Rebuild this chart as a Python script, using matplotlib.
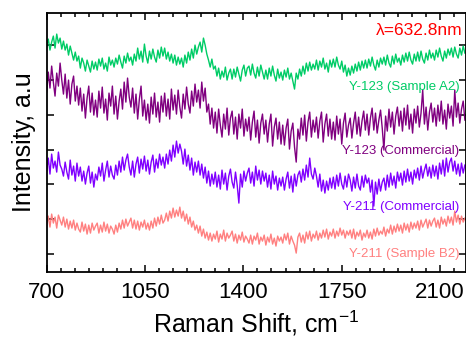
import numpy as np
import matplotlib
matplotlib.use("Agg")
import matplotlib.pyplot as plt
from matplotlib.ticker import MultipleLocator, FixedLocator

plt.rcParams['font.family'] = ['Liberation Sans', 'DejaVu Sans']
plt.rcParams['mathtext.default'] = 'regular'

# ---------------- data ----------------
wavenumber = np.arange(700, 2190, 6)  # cm^-1 sampling grid

y123_a2 = [
    225,233,222,230,236,224,238,229,234,223,
    231,222,228,217,226,219,212,220,211,216,
    204,214,209,201,212,206,200,211,203,210,
    202,213,206,214,203,209,201,215,207,212,
    205,214,208,217,210,204,216,209,219,211,
    215,207,218,211,224,213,221,210,228,216,
    209,221,213,223,215,210,222,214,225,216,
    224,213,220,211,218,209,217,207,215,208,
    214,205,217,209,220,212,223,214,227,218,
    225,230,220,234,227,218,212,205,213,203,
    206,196,204,193,201,195,205,192,199,203,
    193,203,195,205,198,191,202,207,196,204,
    206,197,208,199,194,205,196,207,200,193,
    202,193,204,196,206,197,191,203,194,200,
    192,202,195,204,193,199,191,183,199,193,
    203,196,206,198,209,201,210,202,208,203,
    212,202,211,205,214,203,209,200,212,205,
    213,205,215,207,203,211,200,207,196,204,
    197,206,199,208,201,210,202,211,204,212,
    204,213,206,215,207,202,212,205,214,208,
    215,207,217,209,205,216,208,218,210,214,
    207,217,210,219,211,220,212,208,218,211,
    220,211,221,213,209,219,212,222,214,219,
    212,222,215,224,216,211,221,214,223,217,
    224,215,225,218,214,224,217,226,219,
]

y123_comm = [
    180,200,184,206,190,176,199,186,209,192,
    178,198,174,192,168,188,196,171,186,167,
    184,161,178,154,174,186,160,179,157,172,
    155,181,164,185,159,173,152,179,166,186,
    158,176,153,171,183,163,190,170,194,175,
    165,184,159,178,153,173,186,156,172,152,
    168,149,175,158,179,155,170,150,176,160,
    179,156,173,153,183,162,177,158,182,165,
    154,178,163,185,168,159,181,166,188,170,
    182,164,190,171,184,160,168,148,164,144,
    160,139,163,147,135,158,143,164,137,154,
    161,138,155,133,158,144,163,136,153,141,
    155,132,150,161,135,152,129,149,158,138,
    152,130,148,158,126,145,154,133,150,128,
    147,127,144,153,123,141,149,125,110,143,
    133,154,137,157,131,150,160,135,152,140,
    155,134,151,160,130,148,158,136,153,133,
    150,132,156,138,153,128,149,159,135,147,
    154,134,149,160,138,155,136,151,161,142,
    158,137,154,164,142,159,139,152,162,144,
    122,156,141,163,145,160,138,156,165,146,
    161,141,164,147,167,143,158,139,163,149,
    166,145,159,182,148,165,142,160,169,150,
    164,146,167,151,171,148,162,143,168,154,
    166,146,182,155,169,149,163,171,152,
]

y211_comm = [
    101,114,98,118,104,111,100,120,107,103,
    96,110,100,93,112,97,106,91,109,96,
    105,91,101,88,99,106,89,100,85,98,
    92,105,96,109,91,102,111,95,106,97,
    93,107,97,111,100,115,102,112,118,105,
    97,111,95,108,115,99,113,103,116,101,
    112,98,110,117,100,113,104,118,107,115,
    104,118,108,122,111,127,115,131,119,128,
    121,108,123,106,117,102,114,97,110,100,
    111,97,108,94,105,89,101,86,98,88,
    100,85,97,83,102,88,99,82,96,103,
    90,84,100,87,69,98,85,101,91,99,
    104,89,100,86,106,92,102,88,101,91,
    99,85,97,83,101,88,96,82,94,86,
    95,82,93,100,84,96,80,98,86,97,
    101,90,103,92,107,95,114,98,93,104,
    96,85,98,81,92,79,91,82,94,84,
    95,83,97,86,99,88,83,96,85,98,
    92,81,95,84,98,86,82,96,85,97,
    89,94,80,92,66,90,78,93,81,90,
    94,82,97,85,99,87,96,84,100,91,
    99,87,101,90,103,91,100,88,102,94,
    104,92,106,94,102,108,96,105,94,107,
    96,106,93,109,98,112,96,114,100,110,
    114,101,111,98,108,96,109,99,107,
]

y211_b2 = [
    46,56,45,58,49,55,44,57,52,47,
    55,45,53,43,51,44,52,42,49,43,
    40,50,41,48,38,47,39,49,42,46,
    49,39,47,40,50,41,48,39,46,43,
    38,47,40,49,43,52,44,53,46,50,
    54,44,52,43,51,42,50,45,52,43,
    49,42,51,44,54,46,55,48,57,49,
    52,59,51,61,54,64,55,62,56,65,
    54,61,51,58,48,55,45,51,42,47,
    39,46,36,43,34,40,32,39,31,38,
    33,41,30,38,33,42,31,39,34,37,
    41,31,38,29,37,32,40,30,36,33,
    29,37,28,36,32,39,28,35,31,37,
    27,35,30,38,28,34,26,36,31,35,
    29,38,32,39,28,36,31,27,19,35,
    39,30,37,29,40,33,41,31,38,34,
    41,32,39,34,42,35,43,33,40,36,
    43,34,41,36,44,37,42,34,41,37,
    42,34,43,33,40,36,42,32,39,35,
    42,34,40,33,43,36,44,37,41,38,
    45,36,43,39,47,38,46,40,48,41,
    47,39,49,42,48,40,50,43,49,44,
    51,42,52,45,49,53,44,52,46,51,
    54,45,52,44,55,48,53,46,56,49,
    55,47,61,50,57,48,56,50,54,
]

series_labels = ["Y-123 (Sample A2)", "Y-123 (Commercial)",
                 "Y-211 (Commercial)", "Y-211 (Sample B2)"]
series_colors = ["#00CC66", "#800080", "#8000FF", "#FF8080"]
x_ticks = [700, 1050, 1400, 1750, 2100]
laser_label = "λ=632.8nm"

# ---------------- plot ----------------
fig = plt.figure(figsize=(4.66, 3.38), dpi=100)
ax = fig.add_axes([0.100, 0.195, 0.900, 0.7663])

all_series = [y123_a2, y123_comm, y211_comm, y211_b2]
for ys, c in zip(all_series, series_colors):
    n = min(len(ys), len(wavenumber))
    ax.plot(wavenumber[:n], ys[:n], color=c, lw=1.0)

ax.set_xlim(700, 2192)
ax.set_ylim(0, 259)

ax.xaxis.set_major_locator(FixedLocator(x_ticks))
ax.xaxis.set_minor_locator(MultipleLocator(50))
ax.yaxis.set_major_locator(FixedLocator([18 + 34.8 * k for k in range(7)]))
ax.set_yticklabels([])

ax.tick_params(axis='both', which='both', direction='in', top=True, right=True,
               width=1.1, colors='black')
ax.tick_params(axis='both', which='major', length=5)
ax.tick_params(axis='both', which='minor', length=3)
ax.tick_params(axis='x', which='major', labelsize=16, pad=7)
for s in ax.spines.values():
    s.set_linewidth(1.3)

ax.set_xlabel("Raman Shift, cm$^{-1}$", fontsize=18, labelpad=4)
ax.set_ylabel("Intensity, a.u", fontsize=18, labelpad=4)

label_y = [185, 121, 65, 18]
for lab, c, yy in zip(series_labels, series_colors, label_y):
    ax.text(2168, yy, lab, color=c, fontsize=9.5, ha='right', va='center')
ax.text(2178, 242, laser_label, color='#FF0000', fontsize=12.5, ha='right', va='center')

fig.savefig("out.png", dpi=100)
